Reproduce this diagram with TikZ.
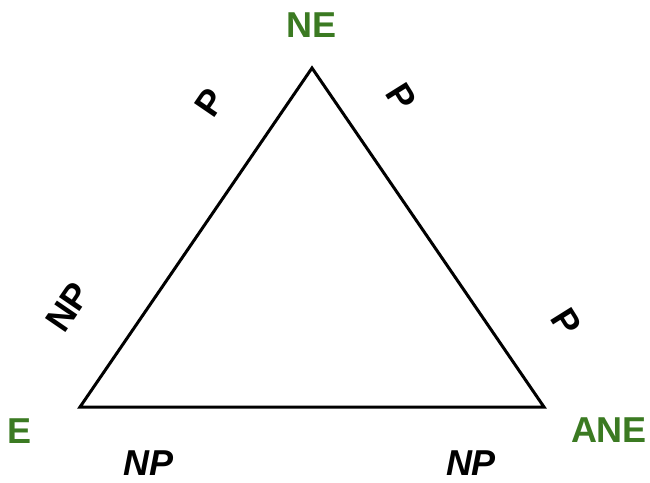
\documentclass[tikz,border=0pt]{standalone}
\usepackage{fontspec}
\setmainfont{Liberation Sans}
\usepackage{xcolor}
\usetikzlibrary{positioning}

\definecolor{leafgreen}{HTML}{3B7A22}

\begin{document}
\begin{tikzpicture}[
   x=1pt, y=-1pt,
   vertex/.style={font=\fontsize{36}{36}\selectfont\bfseries, text=leafgreen, inner sep=0pt},
   edgelbl/.style={font=\fontsize{36}{36}\selectfont\bfseries, inner sep=0pt},
   baselbl/.style={font=\fontsize{36}{36}\selectfont\bfseries\itshape, inner sep=0pt},
   side/.style={line width=3pt, line join=miter}
]
\useasboundingbox (0,0) rectangle (650,482);
% corners
\coordinate (top) at (312,68);
\coordinate (left) at (80,407);
\coordinate (right) at (544,407);
\draw[side] (top) -- (right) -- (left) -- cycle;
% names
\node[vertex] (ne) at (312,25) {NE};
\node[vertex] (e) at (20,431) {E};
\node[vertex] (ane) at (609,430) {ANE};
% along the sides
\node[edgelbl, rotate=55.6] (p1) at (210,103) {P};
\node[edgelbl, rotate=55.6] (np1) at (68,307) {NP};
\node[edgelbl, rotate=-58] (p2) at (401,97) {P};
\node[edgelbl, rotate=-58] (p3) at (566,322) {P};
\node[baselbl] (np2) at (149,463) {NP};
\node[baselbl] (np3) at (471,463) {NP};
\end{tikzpicture}
\end{document}
